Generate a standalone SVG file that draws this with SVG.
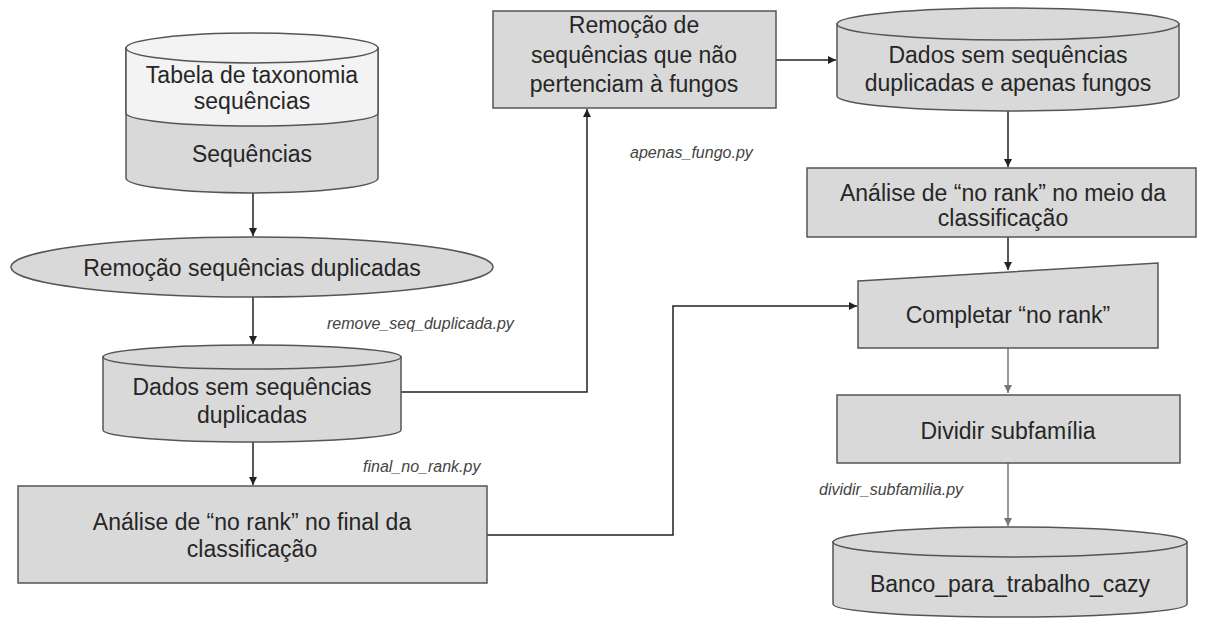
<svg xmlns="http://www.w3.org/2000/svg" width="1208" height="619" viewBox="0 0 1208 619">
<defs>
<style>
.shape{fill:#d9d9d9;stroke:#555;stroke-width:1.5}
.light{fill:#f3f3f3;stroke:#555;stroke-width:1.5}
.t{font-family:"Liberation Sans",Arial,sans-serif;font-size:23px;fill:#262626;text-anchor:middle}
.lbl{font-family:"Liberation Sans",Arial,sans-serif;font-size:16px;font-style:italic;fill:#444}
.c{fill:none;stroke:#222;stroke-width:1.5}
.cg{fill:none;stroke:#777;stroke-width:1.5}
</style>
<marker id="ah" viewBox="0 0 10 10" refX="10" refY="5" markerWidth="8" markerHeight="8" markerUnits="userSpaceOnUse" orient="auto"><path d="M0,0 L10,5 L0,10 Z" fill="#222"/></marker>
<marker id="ahg" viewBox="0 0 10 10" refX="10" refY="5" markerWidth="8" markerHeight="8" markerUnits="userSpaceOnUse" orient="auto"><path d="M0,0 L10,5 L0,10 Z" fill="#777"/></marker>
</defs>
<rect width="1208" height="619" fill="#fff"/>

<g id="connectors">
<path class="c" d="M253,193 V236" marker-end="url(#ah)"/>
<path class="c" d="M253,297 V344" marker-end="url(#ah)"/>
<path class="c" d="M253,442 V485" marker-end="url(#ah)"/>
<path class="c" d="M401,392 H587 V109" marker-end="url(#ah)"/>
<path class="c" d="M776,60 H836" marker-end="url(#ah)"/>
<path class="c" d="M1008,111 V167" marker-end="url(#ah)"/>
<path class="c" d="M1008,237 V270" stroke="#555" marker-end="url(#ah)"/>
<path class="c" d="M487,535 H673 V306 H857" marker-end="url(#ah)"/>
<path class="cg" d="M1008,348 V393" marker-end="url(#ahg)"/>
<path class="cg" d="M1008,463 V526" marker-end="url(#ahg)"/>
</g>

<g id="tabela">
<path class="shape" d="M126,48 V178 A126,15 0 0 0 378,178 V48 Z"/>
<path class="light" d="M126,48 V113 A126,13 0 0 0 378,113 V48 Z"/>
<ellipse class="light" cx="252" cy="48" rx="126" ry="15"/>
<text class="t" x="252" y="83">Tabela de taxonomia</text>
<text class="t" x="252" y="109">sequências</text>
<text class="t" x="252" y="162">Sequências</text>
</g>

<g id="remocao-dup">
<ellipse class="shape" cx="252" cy="267" rx="241" ry="30"/>
<text class="t" x="252" y="276">Remoção sequências duplicadas</text>
</g>

<g id="dados-sem-dup">
<path class="shape" d="M103,357 V430 A149,12 0 0 0 401,430 V357 Z"/>
<ellipse class="shape" cx="252" cy="357" rx="149" ry="12"/>
<text class="t" x="252" y="395">Dados sem sequências</text>
<text class="t" x="252" y="423">duplicadas</text>
</g>

<g id="analise-final">
<rect class="shape" x="18" y="486" width="469" height="97"/>
<text class="t" x="252" y="530">Análise de “no rank” no final da</text>
<text class="t" x="252" y="557">classificação</text>
</g>

<g id="remocao-fungos">
<rect class="shape" x="493" y="11" width="283" height="97"/>
<text class="t" x="634" y="33">Remoção de</text>
<text class="t" x="634" y="63">sequências que não</text>
<text class="t" x="634" y="92">pertenciam à fungos</text>
</g>

<g id="dados-fungos">
<path class="shape" d="M837,24 V96 A171,15 0 0 0 1179,96 V24 Z"/>
<ellipse class="shape" cx="1008" cy="24" rx="171" ry="16"/>
<text class="t" x="1008" y="63">Dados sem sequências</text>
<text class="t" x="1008" y="91">duplicadas e apenas fungos</text>
</g>

<g id="analise-meio">
<rect class="shape" x="807" y="168" width="389" height="69"/>
<text class="t" x="1003" y="201">Análise de “no rank” no meio da</text>
<text class="t" x="1003" y="226">classificação</text>
</g>

<g id="completar">
<polygon class="shape" points="858,281 1158,263 1158,348 858,348"/>
<text class="t" x="1008" y="323">Completar “no rank”</text>
</g>

<g id="dividir">
<rect class="shape" x="837" y="395" width="343" height="68"/>
<text class="t" x="1008" y="439">Dividir subfamília</text>
</g>

<g id="banco">
<path class="shape" d="M833,542 V604 A177,13 0 0 0 1187,604 V542 Z"/>
<ellipse class="shape" cx="1010" cy="542" rx="177" ry="15"/>
<text class="t" x="1010" y="592">Banco_para_trabalho_cazy</text>
</g>

<g id="labels">
<text class="lbl" x="327" y="329">remove_seq_duplicada.py</text>
<text class="lbl" x="363" y="472">final_no_rank.py</text>
<text class="lbl" x="630" y="158">apenas_fungo.py</text>
<text class="lbl" x="819" y="495">dividir_subfamilia.py</text>
</g>
</svg>
